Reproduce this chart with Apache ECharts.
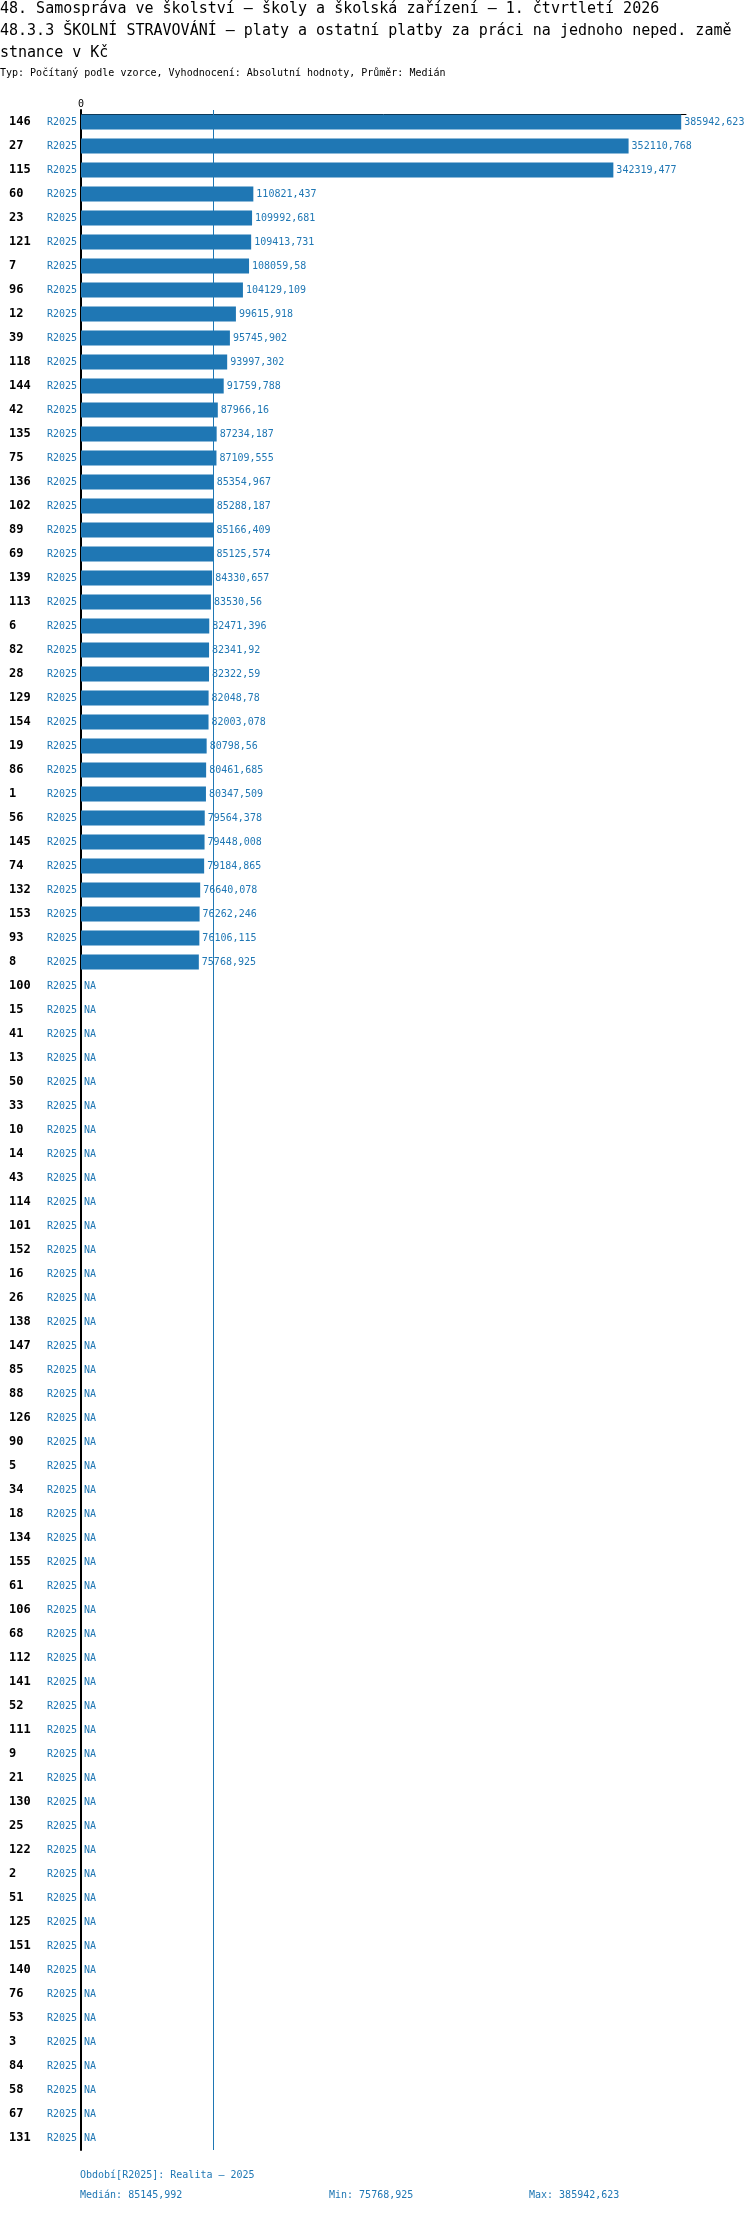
<!DOCTYPE html>
<html>
<head>
<meta charset="utf-8">
<script src="https://cdn.jsdelivr.net/npm/echarts@6/dist/echarts.min.js"></script>
<style>
  html, body { margin: 0; padding: 0; background: #fff; }
  #chart { width: 750px; height: 2214px; }
</style>
</head>
<body>
<div id="chart"></div>
<script>
// data
var categories = ['146', '27', '115', '60', '23', '121', '7', '96', '12', '39', '118', '144',
  '42', '135', '75', '136', '102', '89', '69', '139', '113', '6', '82', '28', '129', '154',
  '19', '86', '1', '56', '145', '74', '132', '153', '93', '8',
  '100', '15', '41', '13', '50', '33', '10', '14', '43', '114', '101', '152', '16', '26',
  '138', '147', '85', '88', '126', '90', '5', '34', '18', '134', '155', '61', '106', '68',
  '112', '141', '52', '111', '9', '21', '130', '25', '122', '2', '51', '125', '151', '140',
  '76', '53', '3', '84', '58', '67', '131'];

var period = 'R2025';
var periodName = 'Realita - 2025';

var values = [385942.623, 352110.768, 342319.477, 110821.437, 109992.681, 109413.731,
  108059.58, 104129.109, 99615.918, 95745.902, 93997.302, 91759.788,
  87966.16, 87234.187, 87109.555, 85354.967, 85288.187, 85166.409,
  85125.574, 84330.657, 83530.56, 82471.396, 82341.92, 82322.59,
  82048.78, 82003.078, 80798.56, 80461.685, 80347.509, 79564.378,
  79448.008, 79184.865, 76640.078, 76262.246, 76106.115, 75768.925,
  null, null, null, null, null, null, null, null, null, null,
  null, null, null, null, null, null, null, null, null, null,
  null, null, null, null, null, null, null, null, null, null,
  null, null, null, null, null, null, null, null, null, null,
  null, null, null, null, null, null, null, null, null];

var titleLines = [
  '48. Samospráva ve školství – školy a školská zařízení – 1. čtvrtletí 2026',
  '48.3.3 ŠKOLNÍ STRAVOVÁNÍ – platy a ostatní platby za práci na jednoho neped. zamě',
  'stnance v Kč'
];
var subTitle = 'Typ: Počítaný podle vzorce, Vyhodnocení: Absolutní hodnoty, Průměr: Medián';

var BLUE = '#1f77b4';
var MONO = '"DejaVu Sans Mono", "Liberation Mono", monospace';

function fmt(v) {
  return String(parseFloat((v + 1e-9).toFixed(3))).replace('.', ',');
}

var known = values.filter(function (v) { return v != null; });
var sorted = known.slice().sort(function (a, b) { return a - b; });
var mid = Math.floor(sorted.length / 2);
var median = sorted.length % 2 ? sorted[mid] : (sorted[mid - 1] + sorted[mid]) / 2;
var minV = sorted[0];
var maxV = sorted[sorted.length - 1];

var naData = values.map(function (v) { return v == null ? 0 : null; });

var chart = echarts.init(document.getElementById('chart'));
chart.setOption({
  animation: false,
  title: [{
    text: titleLines.join('\n'),
    left: 0,
    top: -2,
    padding: 0,
    textStyle: { fontFamily: MONO, fontSize: 15, fontWeight: 'normal', color: '#000', lineHeight: 22 }
  }, {
    text: subTitle,
    left: 0,
    top: 67,
    padding: 0,
    textStyle: { fontFamily: MONO, fontSize: 10, fontWeight: 'normal', color: '#000', lineHeight: 12 }
  }],
  grid: { left: 81, top: 110, width: 605, height: 2040, containLabel: false },
  xAxis: {
    type: 'value',
    position: 'top',
    offset: -4,
    min: 0,
    max: function (v) { return v.max * 1.008; },
    splitLine: { show: false },
    axisLine: { show: true, lineStyle: { color: '#000', width: 1 } },
    axisTick: { show: true, length: 4, customValues: [0], lineStyle: { color: '#000' } },
    axisLabel: {
      customValues: [0],
      margin: 5,
      fontFamily: MONO, fontSize: 10, color: '#000',
      formatter: function (v) { return v === 0 ? '0' : ''; }
    }
  },
  yAxis: {
    type: 'category',
    inverse: true,
    data: categories,
    axisLine: { show: true, lineStyle: { color: '#000', width: 2 } },
    axisTick: { show: false },
    axisLabel: {
      margin: 4,
      interval: 0,
      formatter: function (c) { return '{a|' + c + '}{b|' + period + '}'; },
      rich: {
        a: { width: 37, align: 'left', fontFamily: MONO, fontSize: 12, fontWeight: 'bold', color: '#000' },
        b: { width: 31, align: 'right', fontFamily: MONO, fontSize: 10, color: BLUE }
      }
    }
  },
  series: [{
    name: period,
    type: 'bar',
    z: 3,
    data: values,
    barWidth: 15,
    itemStyle: { color: BLUE },
    label: {
      show: true,
      position: 'right',
      distance: 3,
      fontFamily: MONO,
      fontSize: 10,
      color: BLUE,
      backgroundColor: '#fff',
      padding: [2, 0, 1, 0],
      formatter: function (p) { return fmt(p.value); }
    }
  }, {
    name: 'NA',
    type: 'bar',
    z: 1,
    data: naData,
    barWidth: 15,
    barGap: '-100%',
    itemStyle: { color: BLUE },
    label: {
      show: true,
      position: 'right',
      distance: 3,
      fontFamily: MONO,
      fontSize: 10,
      color: BLUE,
      formatter: 'NA'
    },
    markLine: {
      silent: true,
      symbol: 'none',
      label: { show: false },
      lineStyle: { color: BLUE, width: 1, type: 'solid' },
      data: [{ xAxis: median }]
    }
  }],
  graphic: [{
    type: 'text', left: 80, top: 2170,
    style: { text: 'Období[' + period + ']: ' + periodName.replace(' - ', ' – '), font: '10px ' + MONO, fill: BLUE }
  }, {
    type: 'text', left: 80, top: 2190,
    style: { text: 'Medián: ' + fmt(median), font: '10px ' + MONO, fill: BLUE }
  }, {
    type: 'text', left: 329, top: 2190,
    style: { text: 'Min: ' + fmt(minV), font: '10px ' + MONO, fill: BLUE }
  }, {
    type: 'text', left: 529, top: 2190,
    style: { text: 'Max: ' + fmt(maxV), font: '10px ' + MONO, fill: BLUE }
  }]
});
</script>
</body>
</html>
